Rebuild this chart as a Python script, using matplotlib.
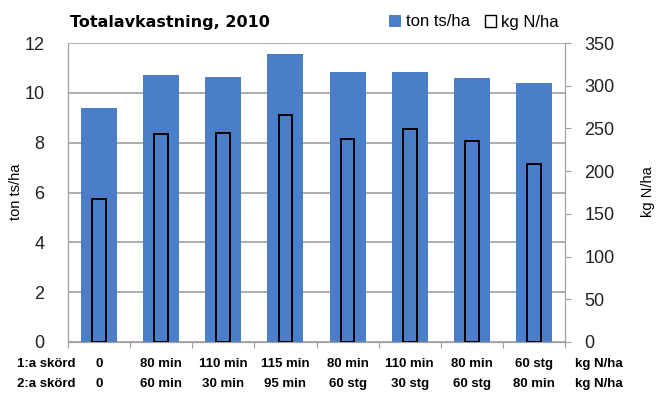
import numpy as np
import matplotlib
matplotlib.use('Agg')
from matplotlib import pyplot as plt
from matplotlib.patches import Patch
from matplotlib.transforms import blended_transform_factory

first_cut = ['0', '80 min', '110 min', '115 min', '80 min', '110 min', '80 min', '60 stg']
second_cut = ['0', '60 min', '30 min', '95 min', '60 stg', '30 stg', '60 stg', '80 min']
yield_ton = [9.4, 10.72, 10.64, 11.57, 10.84, 10.84, 10.6, 10.4]
nitrogen_kg = [167, 243, 245, 266, 238, 249, 235, 208]

blue = '#4a7ec8'
plt.rcParams['font.family'] = ['Liberation Sans', 'DejaVu Sans']

fig = plt.figure(figsize=(6.57, 3.94), dpi=100)
ax = fig.add_axes([68 / 657, 1 - 342 / 394, (565 - 68) / 657, (342 - 43) / 394])
ax2 = ax.twinx()

x = np.arange(len(yield_ton))
ax.bar(x, yield_ton, width=0.58, color=blue, zorder=2)
ax2.bar(x, nitrogen_kg, width=0.22, facecolor='none', edgecolor='black',
        linewidth=1.4, zorder=3)

ax.set_xlim(-0.5, len(x) - 0.5)
ax.set_ylim(0, 12)
ax.set_yticks(range(0, 13, 2))
ax2.set_ylim(0, 350)
ax2.set_yticks(range(0, 351, 50))
ax.yaxis.grid(True, color='#a0a0a0', linewidth=1.2, zorder=0)
ax.set_axisbelow(True)

for a in (ax, ax2):
    a.spines['top'].set_visible(False)
    a.spines['left'].set_color('#a0a0a0')
    a.spines['right'].set_color('#a0a0a0')
    a.spines['bottom'].set_color('#a0a0a0')
ax.tick_params(axis='y', length=0, labelsize=13, pad=17, colors='#222222')
ax2.tick_params(axis='y', length=4, labelsize=13, pad=10,
                colors='#a0a0a0', labelcolor='#222222')

ax.set_xticks(np.arange(-0.5, len(x), 1.0))
ax.set_xticklabels([])
ax.tick_params(axis='x', length=4, color='#a0a0a0')

trans = blended_transform_factory(ax.transData, fig.transFigure)
for i in range(len(x)):
    ax.text(i, 1 - 364 / 394, first_cut[i], transform=trans, ha='center',
            va='center', fontsize=9.5, fontweight='bold')
    ax.text(i, 1 - 384 / 394, second_cut[i], transform=trans, ha='center',
            va='center', fontsize=9.5, fontweight='bold')
for y_px, lab in ((364, '1:a skörd'), (384, '2:a skörd')):
    fig.text(17 / 657, 1 - y_px / 394, lab, ha='left', va='center',
             fontsize=9.5, fontweight='bold')
    fig.text(599 / 657, 1 - y_px / 394, 'kg N/ha', ha='center', va='center',
             fontsize=9.5, fontweight='bold')

fig.text(16 / 657, 1 - 192 / 394, 'ton ts/ha', fontsize=10.5, rotation=90,
         ha='center', va='center')
fig.text(648 / 657, 1 - 192 / 394, 'kg N/ha', fontsize=10.5, rotation=90,
         ha='center', va='center')

fig.text(70 / 657, 1 - 22 / 394, 'Totalavkastning, 2010', fontsize=11.5,
         fontweight='bold', ha='left', va='center', family='DejaVu Sans')

handles = [Patch(facecolor=blue), Patch(facecolor='white', edgecolor='black')]
fig.legend(handles, ['ton ts/ha', 'kg N/ha'], loc='center',
           bbox_to_anchor=(474 / 657, 1 - 22 / 394), ncol=2, frameon=False,
           fontsize=12, handlelength=0.7, handleheight=0.7, handletextpad=0.3,
           columnspacing=0.9)

fig.savefig('out.png', dpi=100, facecolor='white')
